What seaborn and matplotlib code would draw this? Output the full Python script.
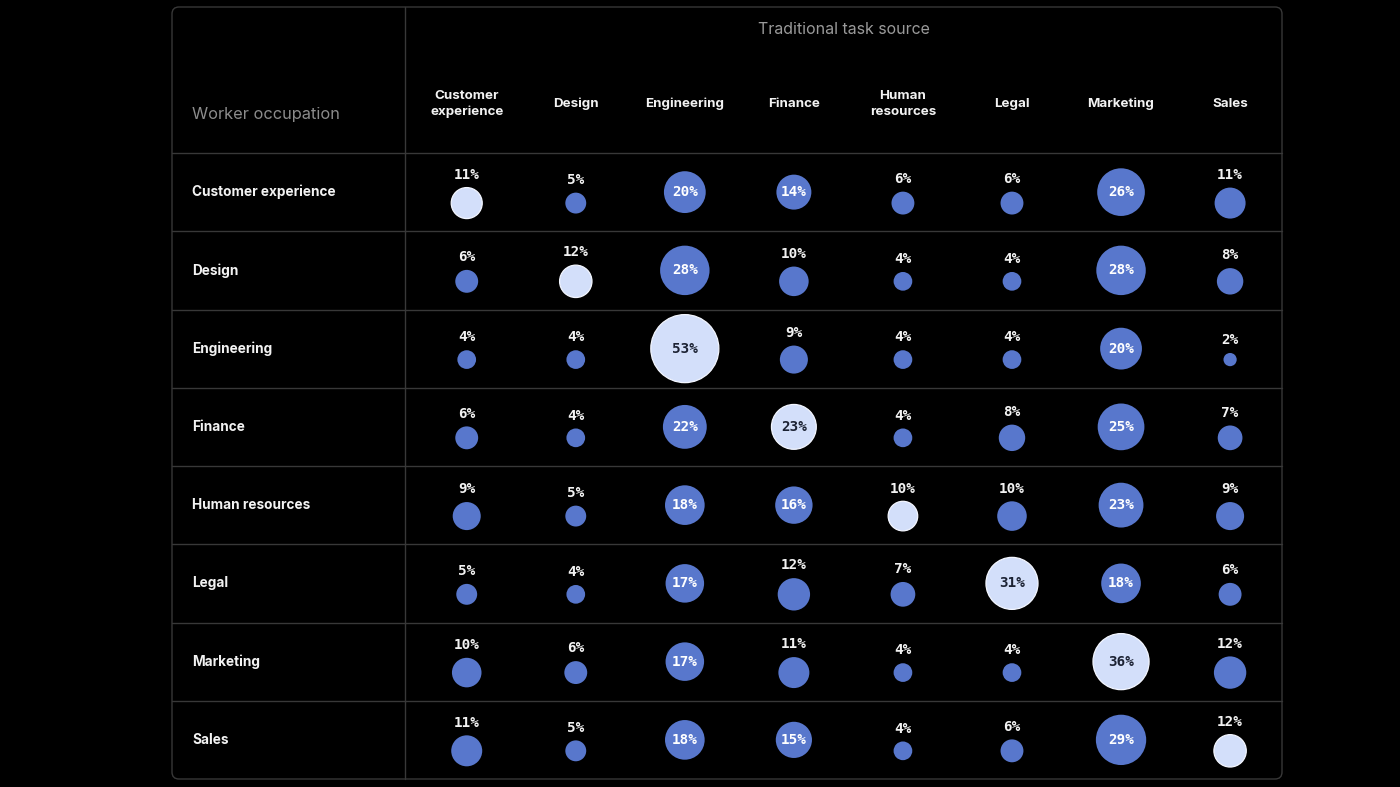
import numpy as np
import pandas as pd
import matplotlib
matplotlib.use("Agg")
import matplotlib.pyplot as plt
from matplotlib.patches import FancyBboxPatch
from matplotlib.lines import Line2D
from matplotlib.transforms import blended_transform_factory
import seaborn as sns

# ---------------- data ----------------
occupations = ["Customer experience", "Design", "Engineering", "Finance",
               "Human resources", "Legal", "Marketing", "Sales"]
task_sources = ["Customer\nexperience", "Design", "Engineering", "Finance",
                "Human\nresources", "Legal", "Marketing", "Sales"]

customer_experience = [11, 5, 20, 14, 6, 6, 26, 11]
design              = [6, 12, 28, 10, 4, 4, 28, 8]
engineering         = [4, 4, 53, 9, 4, 4, 20, 2]
finance             = [6, 4, 22, 23, 4, 8, 25, 7]
human_resources     = [9, 5, 18, 16, 10, 10, 23, 9]
legal               = [5, 4, 17, 12, 7, 31, 18, 6]
marketing           = [10, 6, 17, 11, 4, 4, 36, 12]
sales               = [11, 5, 18, 15, 4, 6, 29, 12]

matrix = [customer_experience, design, engineering, finance,
          human_resources, legal, marketing, sales]

# ---------------- styling ----------------
BG = "#000000"
GRID = "#383838"
BLUE = "#5877cc"
LIGHT = "#d3dffa"
WHITE = "#f2f2f2"
GREY = "#8c8c8c"
SIZE_PER_UNIT = 45.3          # marker area (pt^2) per percentage point
INSIDE_MIN = 13               # values >= this get the label inside the bubble
SHIFT = 0.14                  # downward shift (rows) of bubbles with label above

sns.set_theme(style="white")
plt.rcParams["font.family"] = ["Inter", "DejaVu Sans"]

records = []
for r, row in enumerate(matrix):
    for c, v in enumerate(row):
        inside = v >= INSIDE_MIN
        records.append(dict(row=r, col=c, value=v, diag=(r == c), inside=inside,
                            ypos=r + (0 if inside else SHIFT)))
df = pd.DataFrame(records)

W, H, DPI = 14.0, 7.87, 100
fig = plt.figure(figsize=(W, H), dpi=DPI, facecolor=BG)

# body axes: x 405..1282 px, y 153..779 px
ax = fig.add_axes([405 / 1400, 8 / 787, 877 / 1400, 626 / 787])
ax.set_facecolor(BG)

size_norm = (0, 60)
sizes = (0, SIZE_PER_UNIT * 60)
sns.scatterplot(data=df[~df["diag"]], x="col", y="ypos", size="value",
                sizes=sizes, size_norm=size_norm, color=BLUE, linewidth=0,
                legend=False, ax=ax, zorder=3)
sns.scatterplot(data=df[df["diag"]], x="col", y="ypos", size="value",
                sizes=sizes, size_norm=size_norm, color=LIGHT, edgecolor="#f3f6ff",
                linewidth=0.9, legend=False, ax=ax, zorder=3)

ax.set_xlim(-0.566, 7.476)
ax.set_ylim(7.5, -0.5)
ax.axis("off")

mono = dict(family="DejaVu Sans Mono", fontweight="bold", fontsize=10.3)
for rec in df.itertuples():
    label = f"{rec.value}%"
    if rec.inside:
        ax.text(rec.col, rec.ypos, label, ha="center", va="center",
                color=("#1c2233" if rec.diag else "#ffffff"), zorder=4, **mono)
    else:
        r_pt = np.sqrt(SIZE_PER_UNIT * rec.value) / 2
        ax.annotate(label, (rec.col, rec.ypos), xytext=(0, r_pt + 6.3),
                    textcoords="offset points", ha="center", va="baseline",
                    color=WHITE, zorder=4, **mono)

# ---------------- table frame ----------------
frame = FancyBboxPatch((1.72, 0.08), 11.10, 7.72,
                       boxstyle="round,pad=0,rounding_size=0.07",
                       transform=fig.dpi_scale_trans, facecolor="none",
                       edgecolor=GRID, linewidth=1.0)
fig.add_artist(frame)

fig.add_artist(Line2D([405 / 1400, 405 / 1400], [8 / 787, 1 - 7 / 787],
                      transform=fig.transFigure, color=GRID, linewidth=1.0))

tr_rows = blended_transform_factory(fig.transFigure, ax.transData)
for yb in np.arange(-0.5, len(occupations) - 1, 1.0):
    fig.add_artist(Line2D([172 / 1400, 1282 / 1400], [yb, yb],
                          transform=tr_rows, color=GRID, linewidth=1.0))

# row labels
for r, name in enumerate(occupations):
    fig.text(192 / 1400, r, name, transform=tr_rows, ha="left", va="center",
             color=WHITE, fontsize=9.8, fontweight="bold")

# column headers
tr_cols = blended_transform_factory(ax.transData, fig.transFigure)
for c, name in enumerate(task_sources):
    fig.text(c, 1 - 104 / 787, name, transform=tr_cols, ha="center", va="center",
             color=WHITE, fontsize=9.6, fontweight="bold", linespacing=1.35)

tr_head = blended_transform_factory(ax.transAxes, fig.transFigure)
fig.text(0.5, 1 - 30 / 787, "Traditional task source", transform=tr_head,
         ha="center", va="center", color="#9a9a9a", fontsize=11.5)
fig.text(192 / 1400, 1 - 114 / 787, "Worker occupation", ha="left", va="center",
         color=GREY, fontsize=11.8)

fig.savefig("out.png", dpi=DPI, facecolor=BG)
